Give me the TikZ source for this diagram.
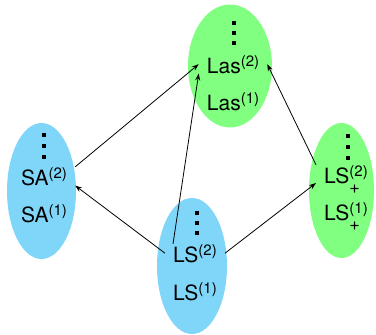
\documentclass[tikz,border=0pt]{standalone}
\usepackage{fontspec}
\setmainfont{TeX Gyre Heros}
\usetikzlibrary{shapes.geometric,arrows.meta}
\definecolor{lgreen}{RGB}{128,255,128}
\definecolor{lblue}{RGB}{128,214,248}
% superscript index, optionally with a "+" below it
\newcommand\idx[1]{{\fontsize{15}{15}\selectfont\raisebox{7pt}{(#1)}}}
\newcommand\idxp[1]{{\fontsize{15}{15}\selectfont\rlap{\fontsize{18}{18}\selectfont\raisebox{-10pt}{+}}\raisebox{7pt}{(#1)}}}
\begin{document}
\begin{tikzpicture}[x=1pt,y=-1pt,
  blob/.style={ellipse,inner sep=0pt,draw=none},
  lbl/.style={anchor=base,inner xsep=8pt,inner ysep=0pt,font=\fontsize{21}{24}\selectfont},
  arr/.style={-{Stealth[length=7pt,width=5pt]},line width=0.8pt},
  dot/.style={fill=black}]
\useasboundingbox (0,0) rectangle (376,335);

% the four groups
\node[blob,fill=lgreen,minimum width=84pt,minimum height=123pt] (top) at (230,66) {};
\node[blob,fill=lblue,minimum width=69pt,minimum height=136pt] (left) at (41.5,191) {};
\node[blob,fill=lblue,minimum width=70pt,minimum height=136pt] (bottom) at (192,266) {};
\node[blob,fill=lgreen,minimum width=65pt,minimum height=135pt] (right) at (341.5,190.5) {};

% vertical ellipsis dots
\foreach \x/\y in {234/23,234/33,234/43, 44/135,44/146,44/157, 197/213,197/223,197/233, 348/136,348/147,348/158}
  \fill[dot] (\x-1.7,\y-1.7) rectangle (\x+1.7,\y+1.7);

% labels
\node[lbl] (las2) at (233,73) {Las\idx{2}};
\node[lbl] (las1) at (233,110) {Las\idx{1}};
\node[lbl] (sa2) at (44,185) {SA\idx{2}};
\node[lbl] (sa1) at (44,222) {SA\idx{1}};
\node[lbl] (ls2) at (195,262) {LS\idx{2}};
\node[lbl] (ls1) at (195,300) {LS\idx{1}};
\node[lbl] (lsp2) at (346,183) {LS\idxp{2}};
\node[lbl] (lsp1) at (346,220) {LS\idxp{1}};

% connectors
\draw[arr] (sa2.north east) -- (las2.west);
\draw[arr] ([xshift=8pt]ls2.north west) -- (las2.south west);
\draw[arr] (ls2.west) -- (sa2.south east);
\draw[arr] (ls2.east) -- (lsp2.base west);
\draw[arr] (lsp2.north west) -- (las2.east);
\end{tikzpicture}
\end{document}
